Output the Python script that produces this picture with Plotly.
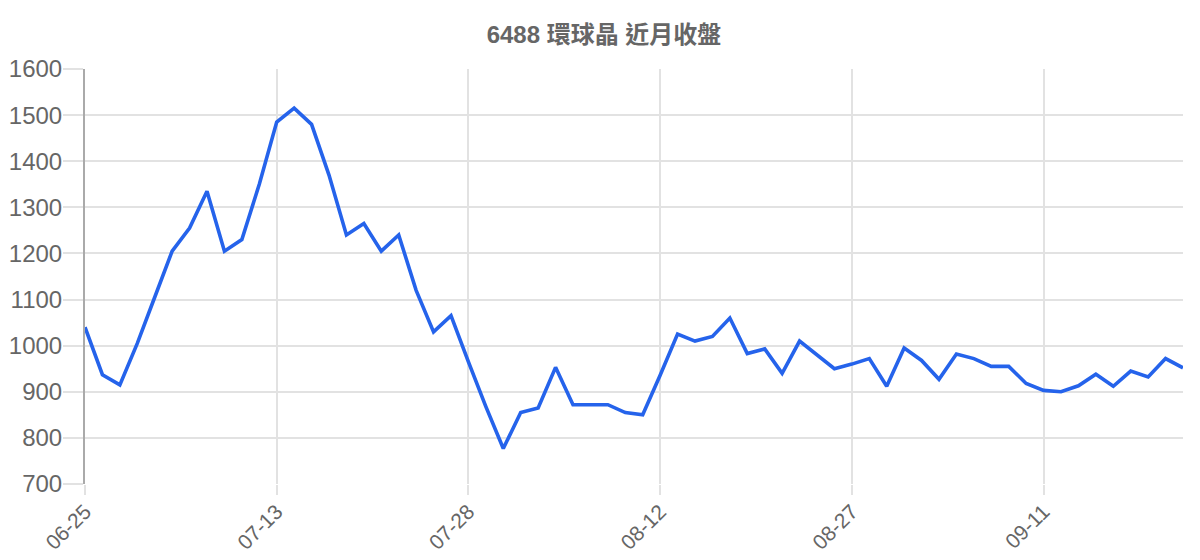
import plotly.graph_objects as go

# trading days (MM-DD) and closing prices
dates = [
    "06-25", "06-29", "06-30", "07-01", "07-02", "07-03", "07-06", "07-07", "07-08", "07-09", "07-10",
    "07-13", "07-14", "07-15", "07-16", "07-17", "07-20", "07-21", "07-22", "07-23", "07-24", "07-27",
    "07-28", "07-29", "07-30", "07-31", "08-03", "08-04", "08-05", "08-06", "08-07", "08-10", "08-11",
    "08-12", "08-13", "08-14", "08-17", "08-18", "08-19", "08-20", "08-21", "08-24", "08-25", "08-26",
    "08-27", "08-28", "08-31", "09-01", "09-02", "09-03", "09-04", "09-07", "09-08", "09-09", "09-10",
    "09-11", "09-14", "09-15", "09-16", "09-17", "09-18", "09-21", "09-22", "09-23",
]
close = [
    1040, 937, 915, 1005, 1105, 1205, 1255, 1335, 1205, 1230, 1350,
    1485, 1515, 1480, 1370, 1240, 1265, 1205, 1240, 1120, 1030, 1065,
    965, 868, 777, 855, 865, 953, 872, 872, 872, 855, 850,
    936, 1025, 1010, 1020, 1060, 983, 993, 940, 1010, 980, 950,
    960, 972, 912, 995, 968, 927, 982, 972, 955, 955, 918,
    903, 900, 913, 938, 912, 945, 932, 972, 952,
]
tick_labels = ["06-25", "07-13", "07-28", "08-12", "08-27", "09-11"]

FONT = "Liberation Sans, Arial, Noto Sans CJK TC, sans-serif"

# page body has an 8px margin, so the figure is sized 8px smaller
fig = go.Figure()
fig.add_trace(go.Scatter(x=dates, y=close, mode="lines",
                         line=dict(color="#2563eb", width=3.6),
                         name="收盤"))

fig.update_layout(
    width=1192, height=552,
    margin=dict(l=77, r=17, t=61, b=76),
    paper_bgcolor="white", plot_bgcolor="white",
    showlegend=False,
    font=dict(family=FONT, color="#666666"),
    title=dict(text="<b>6488 環球晶 近月收盤</b>", x=0.5, xanchor="center",
               y=0.951, yanchor="middle",
               font=dict(size=24, color="#666666", family=FONT)),
)
fig.update_xaxes(
    type="category", range=[0, len(dates) - 1],
    tickmode="array", tickvals=tick_labels, ticktext=tick_labels,
    tickangle=-45, tickfont=dict(size=21, color="#666666"),
    showgrid=True, gridcolor="#e2e2e2", gridwidth=1.5,
    ticks="outside", ticklen=10, tickcolor="#e2e2e2", tickwidth=1.5,
    ticklabelstandoff=-4,
    showline=False, zeroline=False, automargin=False,
)
fig.update_yaxes(
    range=[700, 1600], dtick=100,
    tickfont=dict(size=24, color="#666666"),
    showgrid=True, gridcolor="#e2e2e2", gridwidth=1.5,
    ticks="outside", ticklen=20, tickcolor="#e2e2e2", tickwidth=1.5,
    ticklabelstandoff=-4,
    showline=True, linecolor="#aaaaaa", linewidth=2,
    zeroline=False, automargin=False,
)

fig.write_html("out.html")
